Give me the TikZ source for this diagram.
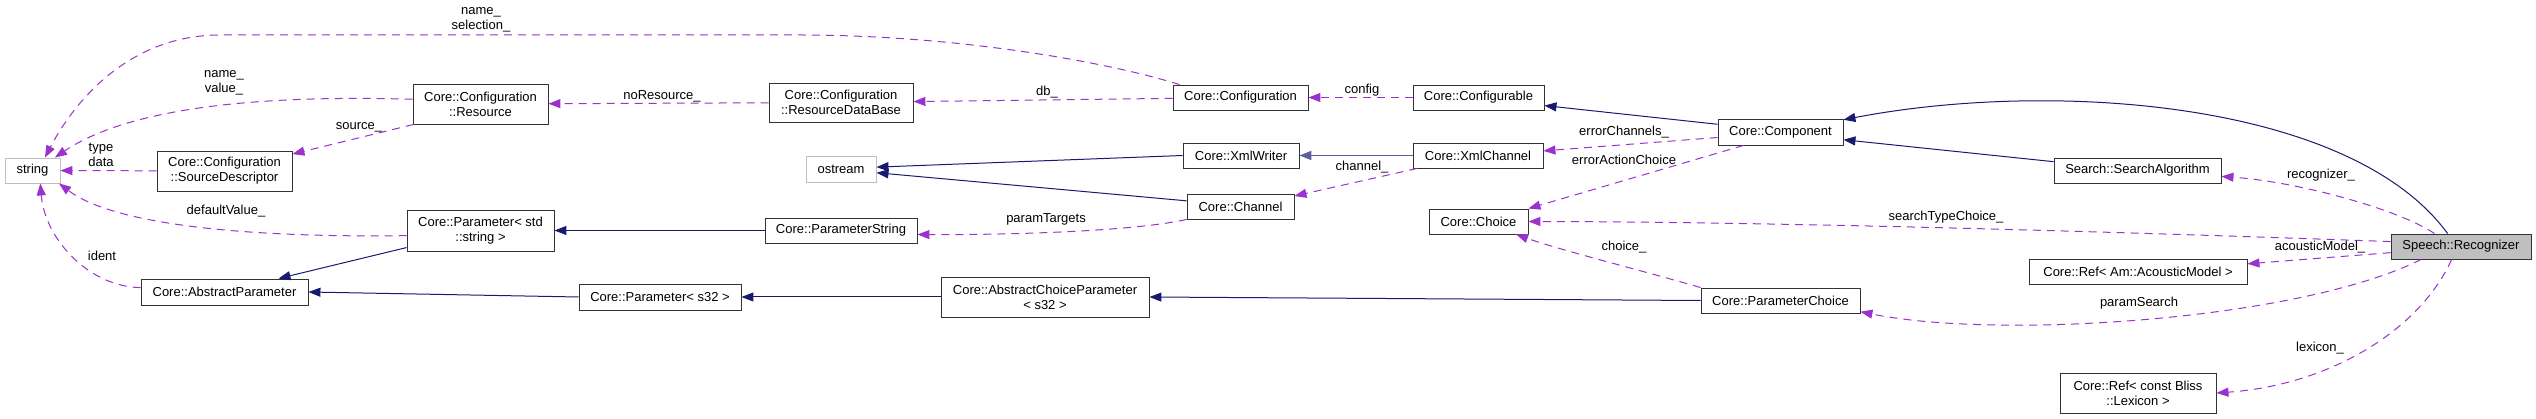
\documentclass[tikz,border=0pt]{standalone}
\usepackage{fontspec}
\setmainfont{Liberation Sans}
\usetikzlibrary{arrows.meta}
\definecolor{inhblue}{HTML}{191970}
\definecolor{usepurple}{HTML}{9A32CD}

\begin{document}
\begin{tikzpicture}[x=1pt,y=-1pt]
    \tikzstyle{cls}=[draw=black!80,line width=0.9pt,fill=white,inner sep=0pt,minimum height=25pt,align=center,font=\fontsize{13}{15}\selectfont]
    \tikzstyle{ext cls}=[cls,draw=black!25]
    \tikzstyle{main cls}=[cls,fill=black!25]
    \tikzstyle{lbl}=[inner sep=0pt,align=center,font=\fontsize{13}{15}\selectfont]
    \tikzstyle{inherit}=[draw=inhblue,line width=1pt,-{Triangle[length=12pt,width=9pt]}]
    \tikzstyle{uses}=[draw=usepurple,line width=1pt,dash pattern=on 8pt off 6pt,-{Triangle[length=12pt,width=9pt]}]

    \fill[white] (0,0) rectangle (2536,419);
    \useasboundingbox (0,0) rectangle (2536,419);

    % Draw the class nodes
    \node[ext cls,minimum width=55pt] (str) at (32.5,170.5) {string};
    \node[cls,minimum width=135pt,minimum height=40pt] (res) at (480.5,104) {Core::Configuration\\::Resource};
    \node[cls,minimum width=135pt,minimum height=40pt] (sd) at (224.5,171) {Core::Configuration\\::SourceDescriptor};
    \node[cls,minimum width=144pt,minimum height=39pt] (rdb) at (841,102.5) {Core::Configuration\\::ResourceDataBase};
    \node[cls,minimum width=135pt] (conf) at (1240.5,97.5) {Core::Configuration};
    \node[cls,minimum width=131pt] (cfgb) at (1478.5,97.5) {Core::Configurable};
    \node[cls,minimum width=125pt,minimum height=26pt] (comp) at (1780.5,132) {Core::Component};
    \node[ext cls,minimum width=70pt,minimum height=26pt] (ost) at (841,169) {ostream};
    \node[cls,minimum width=116pt] (xw) at (1241,155.5) {Core::XmlWriter};
    \node[cls,minimum width=130pt] (xch) at (1478,155.5) {Core::XmlChannel};
    \node[cls,minimum width=107pt] (ch) at (1240.5,206.5) {Core::Channel};
    \node[cls,minimum width=152pt] (ps) at (841,230.5) {Core::ParameterString};
    \node[cls,minimum width=147pt,minimum height=41pt] (pss) at (480.5,230.5) {Core::Parameter< std\\::string >};
    \node[cls,minimum width=167pt,minimum height=26pt] (ap) at (224.5,292) {Core::AbstractParameter};
    \node[cls,minimum width=162pt,minimum height=26pt] (ps32) at (660,297) {Core::Parameter< s32 >};
    \node[cls,minimum width=208pt,minimum height=40pt] (acp) at (1045,297) {Core::AbstractChoiceParameter\\< s32 >};
    \node[cls,minimum width=99pt] (choice) at (1478.5,221.5) {Core::Choice};
    \node[cls,minimum width=159pt] (pc) at (1780.5,300.5) {Core::ParameterChoice};
    \node[cls,minimum width=167pt] (sa) at (2137.5,170.5) {Search::SearchAlgorithm};
    \node[cls,minimum width=218pt] (ram) at (2138,271.5) {Core::Ref< Am::AcousticModel >};
    \node[cls,minimum width=156pt,minimum height=40pt] (lex) at (2138,393) {Core::Ref< const Bliss\\::Lexicon >};
    \node[main cls,minimum width=140pt] (rec) at (2461,246.5) {Speech::Recognizer};

    % Inheritance edges
    \foreach \from/\to in {xw.west/ost.3, ch.174/ost.-6, ps/pss, pss.193/ap.14, ps32.west/ap.east,
                           acp/ps32, pc.west/acp.east, comp.173/cfgb.-7, sa.174/comp.-7}
        \draw[inherit] (\from) -- (\to);
    \draw[inherit,line width=1.8pt,draw=inhblue!70] (xch) -- (xw);
    \draw[inherit] (rec.136) .. controls (2350,100) and (2050,80) .. (comp.11);

    % Usage edges
    \foreach \from/\to in {sd/str, rdb/res, conf/rdb, cfgb/conf, res.197/sd.14, comp.185/xch.4,
                           comp.200/choice.north east, xch.192/ch.11, rec.185/ram.4}
        \draw[uses] (\from) -- (\to);
    \draw[uses] (conf.168) .. controls (1100,60) and (950,35) .. (800,35) -- (220,35)
        .. controls (130,35) and (75,100) .. (str.46);
    \draw[uses] (res.176) .. controls (300,96) and (140,100) .. (str.30);
    \draw[uses] (pss.184) .. controls (230,238) and (110,222) .. (str.-26);
    \draw[uses] (ap.177) .. controls (90,287) and (45,240) .. (str.-59);
    \draw[uses] (ch.south west) .. controls (1130,232) and (1000,235) .. (ps.-3);
    \draw[uses] (pc.north west) .. controls (1640,270) and (1560,250) .. (choice.-19);
    \draw[uses] (rec.154) .. controls (2400,210) and (2300,182) .. (sa.-4);
    \draw[uses] (rec.176) .. controls (2150,233) and (1800,222) .. (choice.east);
    \draw[uses] (rec.198) .. controls (2300,320) and (2000,340) .. (pc.-8);
    \draw[uses] (rec.234) .. controls (2420,330) and (2330,385) .. (lex.east);

    % Annotate the edges
    \node[lbl] (l-sel) at (481,20) {name\_\\selection\_};
    \node[lbl] (l-val) at (224,83) {name\_\\value\_};
    \node[lbl] (l-src) at (359,127) {source\_};
    \node[lbl] (l-type) at (101,155) {type\\data};
    \node[lbl] (l-def) at (226,211) {defaultValue\_};
    \node[lbl] (l-ident) at (102,256) {ident};
    \node[lbl] (l-nores) at (662,96) {noResource\_};
    \node[lbl] (l-db) at (1047,92) {db\_};
    \node[lbl] (l-cfg) at (1362,90) {config};
    \node[lbl] (l-chan) at (1362,167) {channel\_};
    \node[lbl] (l-ptg) at (1046,219) {paramTargets};
    \node[lbl] (l-ech) at (1624,132) {errorChannels\_};
    \node[lbl] (l-eac) at (1624,160) {errorActionChoice};
    \node[lbl] (l-cho) at (1624,247) {choice\_};
    \node[lbl] (l-stc) at (1946,217) {searchTypeChoice\_};
    \node[lbl] (l-rcg) at (2321,175) {recognizer\_};
    \node[lbl] (l-am) at (2320,247) {acousticModel\_};
    \node[lbl] (l-psr) at (2139,303) {paramSearch};
    \node[lbl] (l-lex) at (2320,348) {lexicon\_};
\end{tikzpicture}
\end{document}
